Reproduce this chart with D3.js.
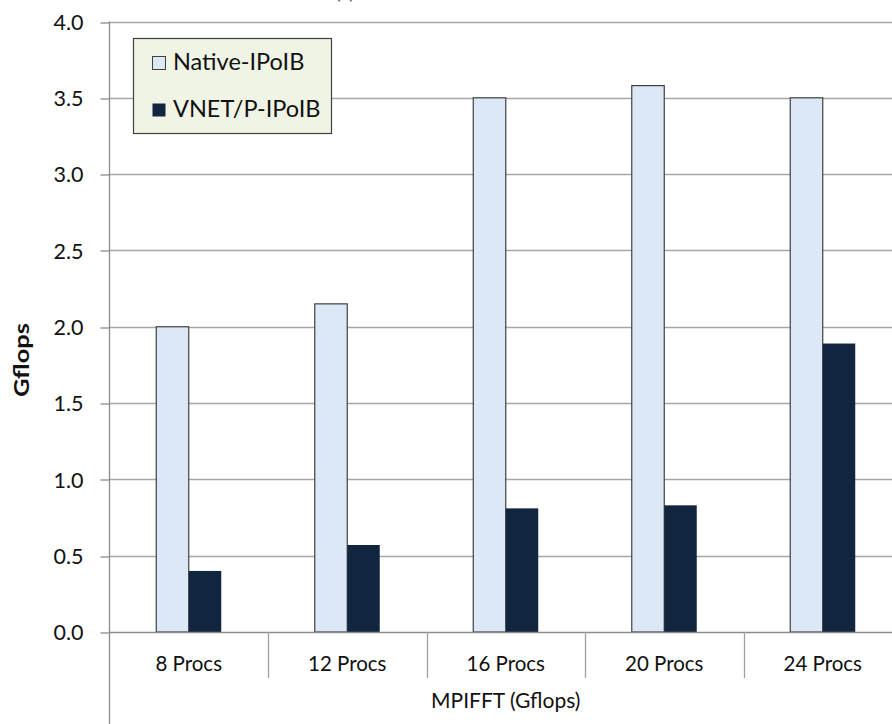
<!DOCTYPE html>
<html>
<head>
<meta charset="utf-8">
<script src="https://cdn.jsdelivr.net/npm/d3@7/dist/d3.min.js"></script>
<style>
  html, body { margin: 0; padding: 0; background: #fff; }
  svg { display: block; font-family: Lato, "Open Sans", sans-serif; }
</style>
</head>
<body>
<svg id="chart" width="892" height="724"></svg>
<script>
// MPIFFT throughput per process count
const categories = ["8 Procs", "12 Procs", "16 Procs", "20 Procs", "24 Procs"];
const seriesNames = ["Native-IPoIB", "VNET/P-IPoIB"];
const nativeValues = [2.00, 2.15, 3.50, 3.58, 3.50];
const vnetValues = [0.40, 0.57, 0.81, 0.83, 1.89];
const yTicks = [0, 0.5, 1, 1.5, 2, 2.5, 3, 3.5, 4];
const seriesColors = ["#dde8f6", "#11253f"];

const svg = d3.select("#chart");
const plotLeft = 109.5, plotRight = 902, plotTop = 21.5, plotBottom = 632;

const x = d3.scaleBand().domain(categories).range([plotLeft, plotRight]).paddingInner(0).paddingOuter(0);
const y = d3.scaleLinear().domain([0, 4]).range([plotBottom, plotTop]);
const barW = x.bandwidth() * 0.205;

// horizontal gridlines
svg.append("g").selectAll("line").data(yTicks.slice(1)).join("line")
  .attr("x1", plotLeft).attr("x2", 892)
  .attr("y1", d => Math.round(y(d)) + 0.5).attr("y2", d => Math.round(y(d)) + 0.5)
  .attr("stroke", "#a6a6a6").attr("stroke-width", 1.3);

// y axis
const yAxis = d3.axisLeft(y).tickValues(yTicks).tickFormat(d3.format(".1f")).tickSize(9).tickPadding(17);
const gy = svg.append("g").attr("transform", `translate(${plotLeft},0)`).call(yAxis);
gy.select(".domain").remove();
gy.selectAll(".tick line").attr("stroke", "#8c8c8c").attr("stroke-width", 1.3)
  .attr("transform", d => `translate(0,${Math.round(y(d)) + 0.5 - y(d)})`);
gy.selectAll(".tick text").attr("x", -26).attr("font-size", 21.5).attr("fill", "#111")
  .attr("font-family", "Lato, sans-serif").attr("dy", "0.36em");
svg.append("line").attr("x1", plotLeft).attr("x2", plotLeft).attr("y1", plotTop).attr("y2", 724)
  .attr("stroke", "#8c8c8c").attr("stroke-width", 1.3);

// bars
const groups = svg.append("g").selectAll("g").data(categories).join("g");
groups.append("rect")
  .attr("x", d => x(d) + x.bandwidth() / 2 - barW)
  .attr("y", (d, i) => y(nativeValues[i]))
  .attr("width", barW)
  .attr("height", (d, i) => plotBottom - y(nativeValues[i]))
  .attr("fill", seriesColors[0]).attr("stroke", "#404040").attr("stroke-width", 1.2);
groups.append("rect")
  .attr("x", d => x(d) + x.bandwidth() / 2)
  .attr("y", (d, i) => y(vnetValues[i]))
  .attr("width", barW)
  .attr("height", (d, i) => plotBottom - y(vnetValues[i]))
  .attr("fill", seriesColors[1]);

// baseline
svg.append("line").attr("x1", plotLeft).attr("x2", 892).attr("y1", plotBottom + 0.5).attr("y2", plotBottom + 0.5)
  .attr("stroke", "#8c8c8c").attr("stroke-width", 1.3);

// category separators and labels
svg.append("g").selectAll("line").data(categories.slice(1)).join("line")
  .attr("x1", d => Math.round(x(d)) + 0.5).attr("x2", d => Math.round(x(d)) + 0.5)
  .attr("y1", plotBottom).attr("y2", 678)
  .attr("stroke", "#a0a0a0").attr("stroke-width", 1.3);
svg.append("g").selectAll("text").data(categories).join("text")
  .attr("x", d => x(d) + x.bandwidth() / 2).attr("y", 671)
  .attr("text-anchor", "middle").attr("font-size", 20.5).attr("fill", "#111")
  .text(d => d);

// axis titles
svg.append("text").attr("x", (plotLeft + plotRight) / 2).attr("y", 708)
  .attr("text-anchor", "middle").attr("font-size", 21).attr("fill", "#111")
  .text("MPIFFT (Gflops)");
svg.append("text").attr("transform", "translate(29,360) rotate(-90)")
  .attr("text-anchor", "middle").attr("font-size", 20).attr("font-weight", "bold").attr("fill", "#111")
  .attr("textLength", 74).attr("lengthAdjust", "spacingAndGlyphs")
  .text("Gflops");

// chart title (sits above the visible area)
svg.append("text").attr("x", 345).attr("y", -1).attr("text-anchor", "middle")
  .attr("font-size", 19).attr("fill", "#555").text("(a)");

// legend
const legend = svg.append("g");
legend.append("rect").attr("x", 133.5).attr("y", 38.5).attr("width", 198).attr("height", 95)
  .attr("fill", "#eff4e4").attr("stroke", "#404040").attr("stroke-width", 1.2);
const items = legend.selectAll("g").data(seriesNames).join("g")
  .attr("transform", (d, i) => `translate(152,${56 + i * 47})`);
items.append("rect").attr("x", 0.5).attr("y", 0.5).attr("width", 13).attr("height", 13)
  .attr("fill", (d, i) => seriesColors[i])
  .attr("stroke", (d, i) => i === 0 ? "#404040" : "none");
items.append("text").attr("x", 21).attr("y", 14).attr("font-size", 23.5).attr("fill", "#111")
  .text(d => d);
</script>
</body>
</html>
